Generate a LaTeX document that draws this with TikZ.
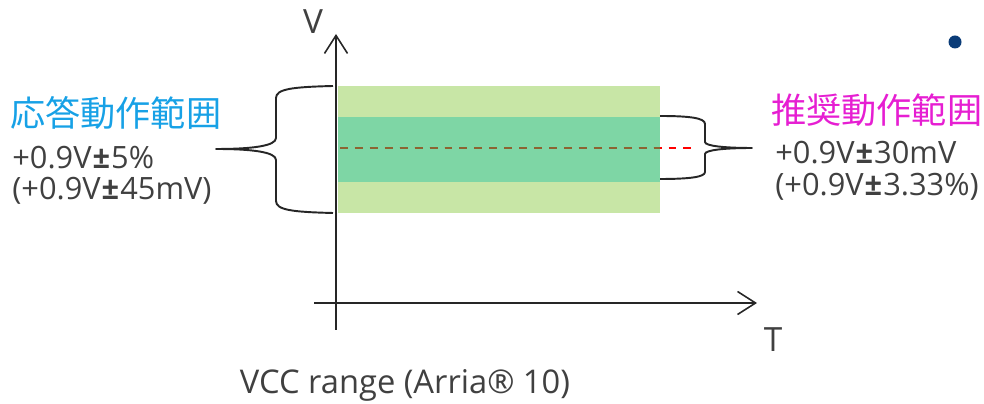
\documentclass[tikz,border=0pt]{standalone}
\usepackage{fontspec}
\setmainfont{Open Sans}
\newfontfamily\jpfont{Noto Sans CJK JP}
\usepackage{tikz}
\usetikzlibrary{arrows.meta}

\definecolor{lightband}{RGB}{200,230,166}
\definecolor{darkband}{RGB}{126,214,165}
\definecolor{spectext}{RGB}{23,161,230}
\definecolor{rectext}{RGB}{230,30,210}
\definecolor{bodytext}{RGB}{64,64,64}
\definecolor{bulletblue}{RGB}{10,60,120}
\definecolor{midbrown}{RGB}{140,100,50}
\newcommand{\pmsign}{\hspace{0.6pt}\textbf{±}\hspace{0.6pt}}

\begin{document}
\begin{tikzpicture}[
    x=0.02cm, y=-0.02cm,
    every node/.style={text=bodytext, inner sep=0pt},
    axis/.style={line width=0.9pt, draw=black!85, -{Straight Barb[length=0.36cm, width=0.46cm, line width=0.9pt]}},
    brace/.style={line width=1.1pt, draw=black!85, line join=round},
    title/.style={font=\jpfont\fontsize{20}{23}\selectfont, anchor=west},
    value/.style={font=\fontsize{17.5}{20}\selectfont, anchor=west},
    midline/.style={line width=1.4pt, dash pattern=on 4.5pt off 4pt}
]
\useasboundingbox (0,0) rectangle (984,404);

%% ---- bands ----
\fill[lightband] (338,86) rectangle (660,213);
\fill[darkband] (338,117) rectangle (660,182);

%% ---- centre line ----
\coordinate (midL) at (340,148);
\coordinate (midR) at (692,148);
\draw[midline, red] (midL) -- (midR);
\begin{scope}
  \clip (338,117) rectangle (660,182);
  \draw[midline, midbrown] (midL) -- (midR);
\end{scope}

%% ---- axes ----
\coordinate (vbot) at (336,330);
\coordinate (vtop) at (336,34);
\coordinate (hleft) at (314,303);
\coordinate (hright) at (757,303);
\draw[axis] (vbot) -- (vtop);
\draw[axis] (hleft) -- (hright);
\node (vlab) at (313,22) {\fontsize{19}{22}\selectfont V};
\node (tlab) at (773,340) {\fontsize{19}{22}\selectfont T};

%% ---- left brace ----
\draw[brace] (333,86) .. controls (292,87) and (276,89) .. (276,98) -- (276,138)
  .. controls (276,146) and (252,149) .. (216,149)
  .. controls (252,149) and (276,152) .. (276,160) -- (276,201)
  .. controls (276,210) and (292,212) .. (333,213);

%% ---- right brace ----
\draw[brace] (660,116) .. controls (690,116) and (705,118) .. (705,124) -- (705,142)
  .. controls (705,146) and (725,148) .. (752,148)
  .. controls (725,148) and (705,150) .. (705,154) -- (705,172)
  .. controls (705,177) and (690,179) .. (660,179);

%% ---- left labels ----
\node[title, text=spectext] (spec) at (10,113) {応答動作範囲};
\node[value] (specA) at (12,158) {+0.9V\pmsign5\%};
\node[value] (specB) at (12,191) {(+0.9V\pmsign45mV)};

%% ---- right labels ----
\node[title, text=rectext] (rec) at (771,110) {推奨動作範囲};
\node[value] (recA) at (775,153) {+0.9V\pmsign30mV};
\node[value] (recB) at (775,187) {(+0.9V\pmsign3.33\%)};

%% ---- caption ----
\node (caption) at (405,385) {\fontsize{18.6}{21}\selectfont VCC range (Arria® 10)};

\fill[bulletblue] (955,42) circle (6.5);
\end{tikzpicture}
\end{document}
